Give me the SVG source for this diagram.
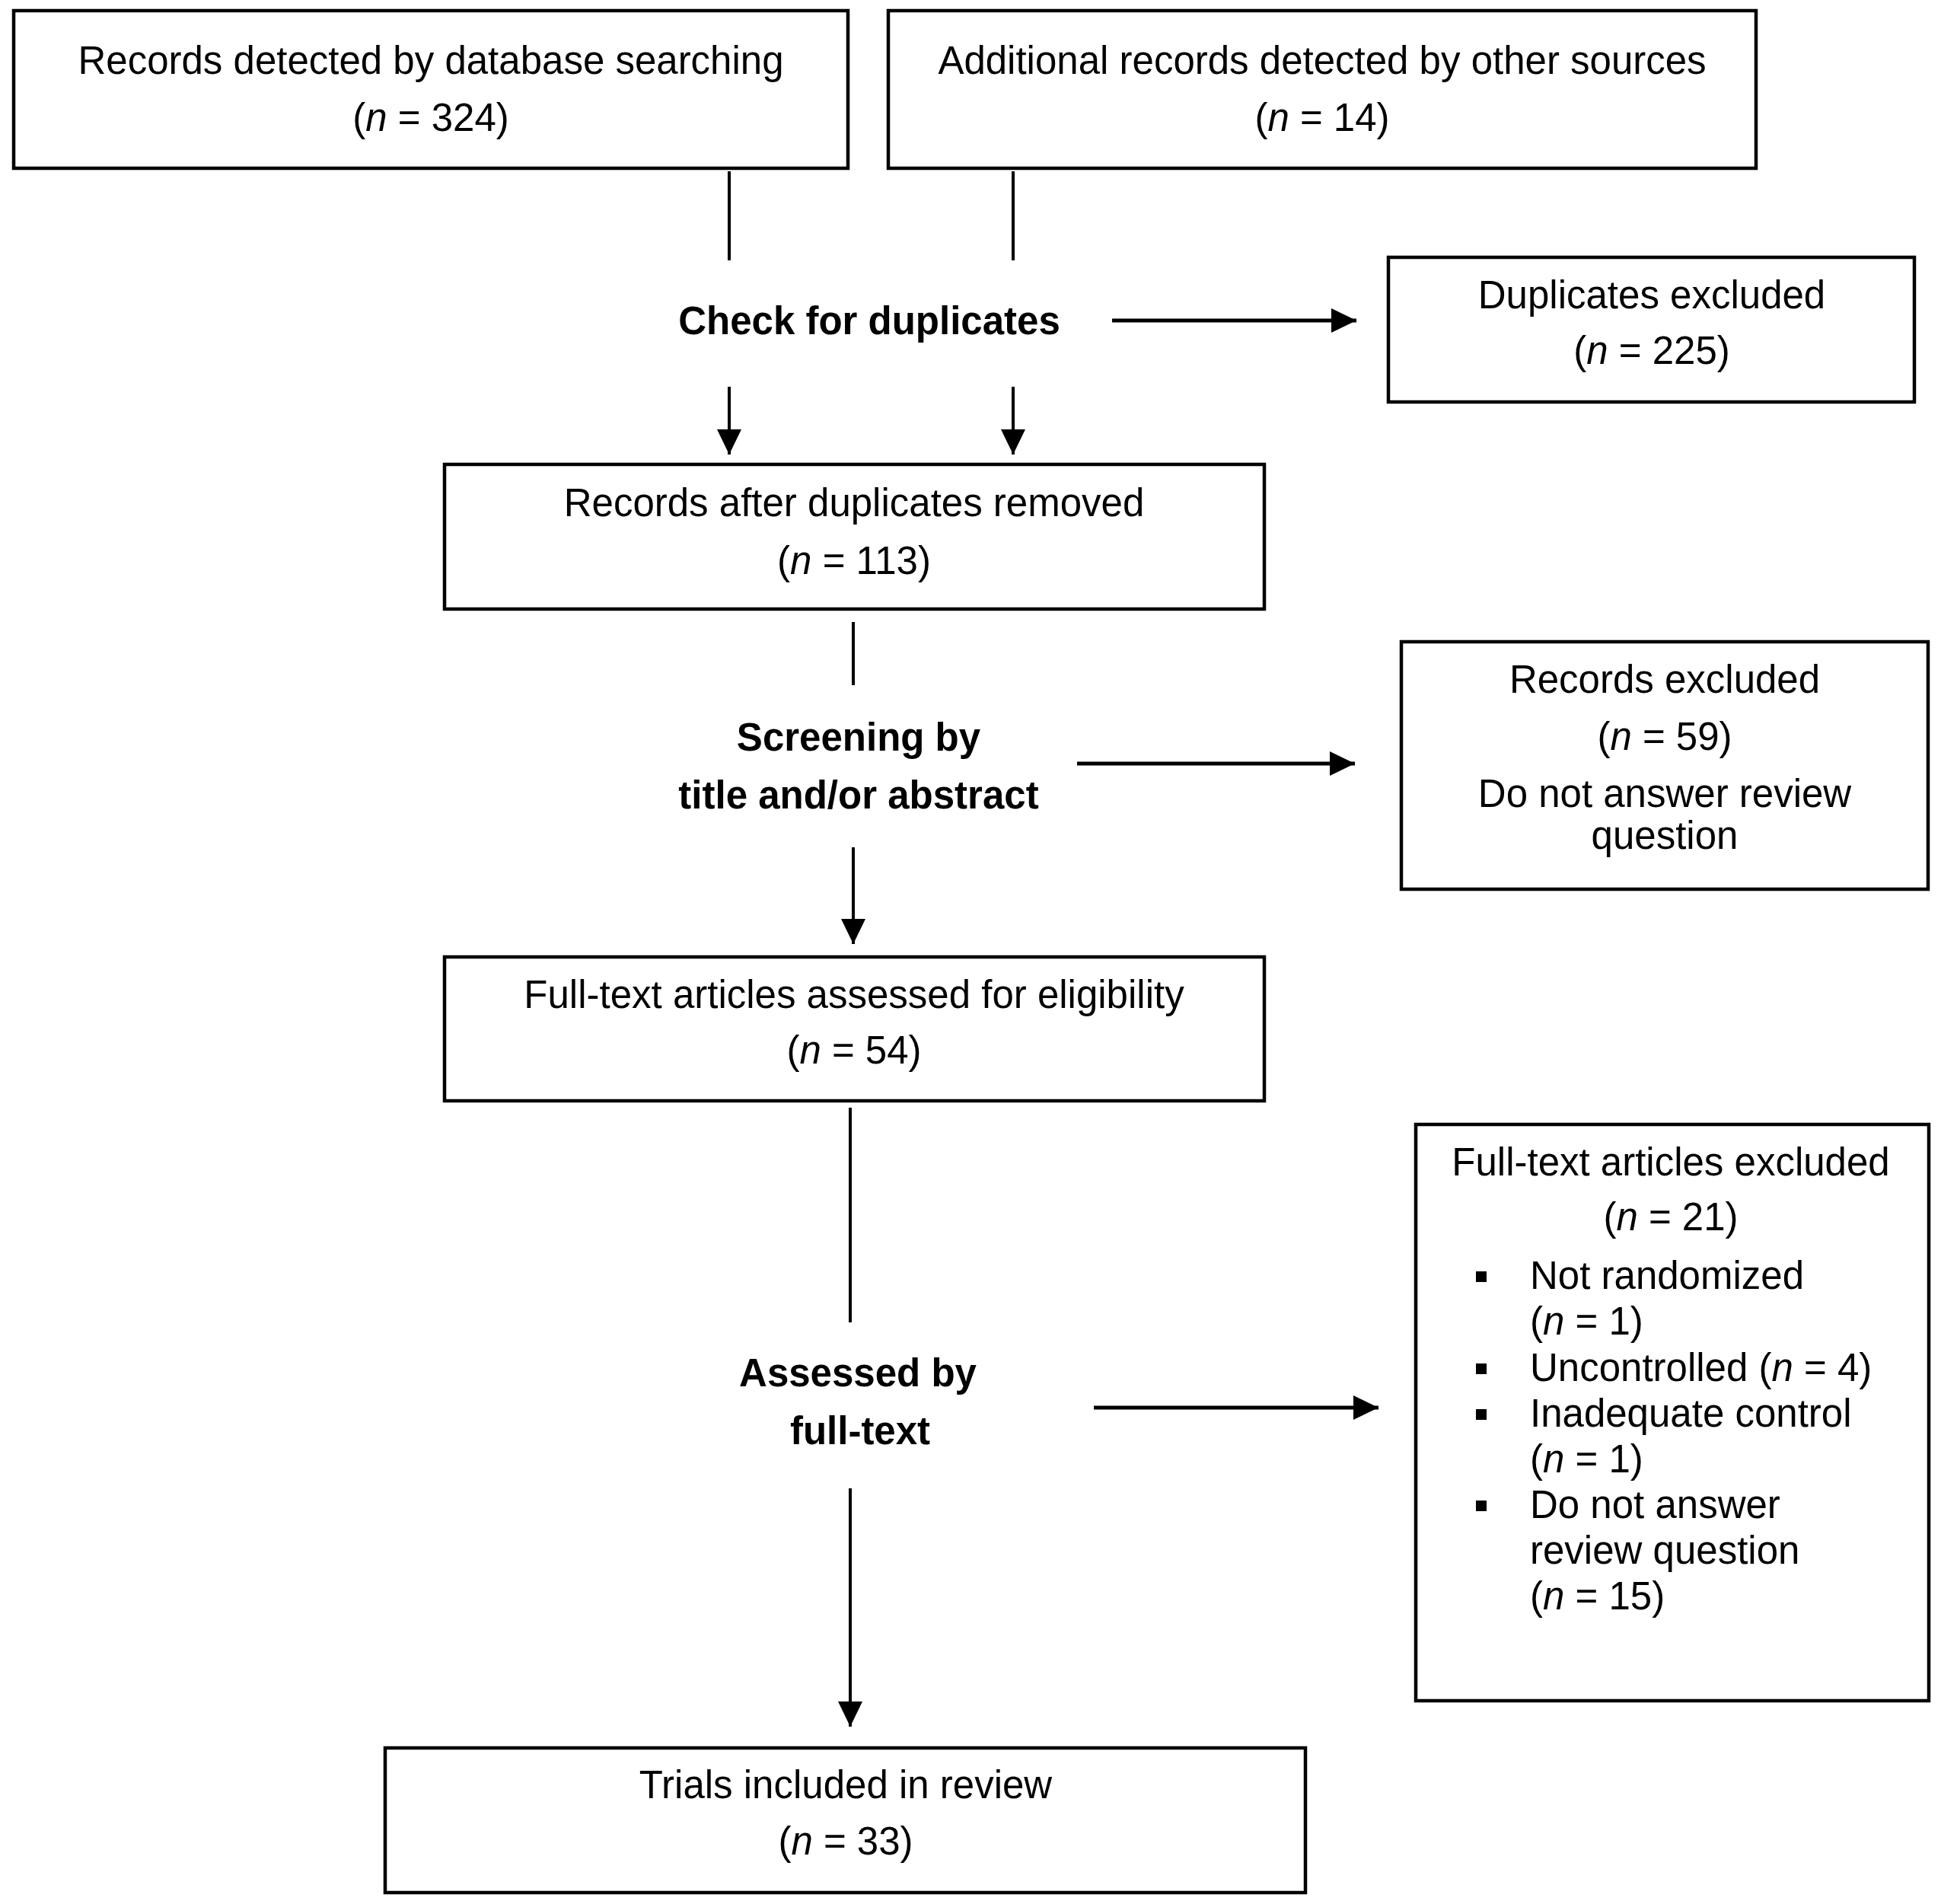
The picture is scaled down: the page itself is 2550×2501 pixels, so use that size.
<svg xmlns="http://www.w3.org/2000/svg" width="2550" height="2501" viewBox="0 0 2550 2501">
<style>
.box{fill:#fff;stroke:#000;stroke-width:4.5}
.t{font-family:"Liberation Sans",Arial,sans-serif;font-size:51px;fill:#000}
.c{text-anchor:middle}
.b{font-weight:bold}
.i{font-style:italic}
.ln{stroke:#000;stroke-width:4;fill:none}
.ar{stroke:#000;stroke-width:5;fill:none}
</style>
<defs>
<marker id="ah" markerUnits="userSpaceOnUse" markerWidth="36" markerHeight="34" refX="33" refY="16" orient="auto">
<path d="M0,0 L33,16 L0,32 z" fill="#000"/>
</marker>
</defs>
<rect width="2550" height="2501" fill="#fff"/>
<g id="connectors">
<line class="ln" x1="958" y1="225" x2="958" y2="342"/>
<line class="ln" x1="1331" y1="225" x2="1331" y2="342"/>
<line class="ar" x1="1461" y1="421" x2="1782" y2="421" marker-end="url(#ah)"/>
<line class="ln" x1="958" y1="508" x2="958" y2="597" marker-end="url(#ah)"/>
<line class="ln" x1="1331" y1="508" x2="1331" y2="597" marker-end="url(#ah)"/>
<line class="ln" x1="1121" y1="817" x2="1121" y2="900"/>
<line class="ar" x1="1415" y1="1003" x2="1780" y2="1003" marker-end="url(#ah)"/>
<line class="ln" x1="1121" y1="1113" x2="1121" y2="1240" marker-end="url(#ah)"/>
<line class="ln" x1="1117" y1="1455" x2="1117" y2="1737"/>
<line class="ar" x1="1437" y1="1849" x2="1811" y2="1849" marker-end="url(#ah)"/>
<line class="ln" x1="1117" y1="1955" x2="1117" y2="2268" marker-end="url(#ah)"/>
</g>
<g id="n1">
<rect class="box" x="18" y="14" width="1096" height="207"/>
<text class="t c" x="566" y="97">Records detected by database searching</text>
<text class="t c" x="566" y="172">(<tspan class="i">n</tspan> = 324)</text>
</g>
<g id="n2">
<rect class="box" x="1167" y="14" width="1140" height="207"/>
<text class="t c" x="1737" y="97">Additional records detected by other sources</text>
<text class="t c" x="1737" y="172">(<tspan class="i">n</tspan> = 14)</text>
</g>
<g id="check">
<text class="t c b" x="1142" y="439">Check for duplicates</text>
</g>
<g id="dup">
<rect class="box" x="1824" y="338" width="691" height="190"/>
<text class="t c" x="2170" y="405">Duplicates excluded</text>
<text class="t c" x="2170" y="478">(<tspan class="i">n</tspan> = 225)</text>
</g>
<g id="n3">
<rect class="box" x="584" y="610" width="1077" height="190"/>
<text class="t c" x="1122" y="678">Records after duplicates removed</text>
<text class="t c" x="1122" y="754">(<tspan class="i">n</tspan> = 113)</text>
</g>
<g id="screen">
<text class="t c b" x="1128" y="986">Screening by</text>
<text class="t c b" x="1128" y="1062">title and/or abstract</text>
</g>
<g id="rexcl">
<rect class="box" x="1841" y="843" width="692" height="325"/>
<text class="t c" x="2187" y="910">Records excluded</text>
<text class="t c" x="2187" y="985">(<tspan class="i">n</tspan> = 59)</text>
<text class="t c" x="2187" y="1060">Do not answer review</text>
<text class="t c" x="2187" y="1115">question</text>
</g>
<g id="n4">
<rect class="box" x="584" y="1257" width="1077" height="189"/>
<text class="t c" x="1122" y="1324">Full-text articles assessed for eligibility</text>
<text class="t c" x="1122" y="1397">(<tspan class="i">n</tspan> = 54)</text>
</g>
<g id="assess">
<text class="t c b" x="1127" y="1821">Assessed by</text>
<text class="t c b" x="1130" y="1897">full-text</text>
</g>
<g id="fexcl">
<rect class="box" x="1860" y="1477" width="674" height="757"/>
<text class="t c" x="2195" y="1544">Full-text articles excluded</text>
<text class="t c" x="2195" y="1616">(<tspan class="i">n</tspan> = 21)</text>
<rect x="1939" y="1670" width="14" height="14" fill="#000"/>
<rect x="1939" y="1791" width="14" height="14" fill="#000"/>
<rect x="1939" y="1851" width="14" height="14" fill="#000"/>
<rect x="1939" y="1971" width="14" height="14" fill="#000"/>
<text class="t" x="2010" y="1693">Not randomized</text>
<text class="t" x="2010" y="1753">(<tspan class="i">n</tspan> = 1)</text>
<text class="t" x="2010" y="1814">Uncontrolled (<tspan class="i">n</tspan> = 4)</text>
<text class="t" x="2010" y="1874">Inadequate control</text>
<text class="t" x="2010" y="1934">(<tspan class="i">n</tspan> = 1)</text>
<text class="t" x="2010" y="1994">Do not answer</text>
<text class="t" x="2010" y="2054">review question</text>
<text class="t" x="2010" y="2114">(<tspan class="i">n</tspan> = 15)</text>
</g>
<g id="n5">
<rect class="box" x="506" y="2296" width="1209" height="190"/>
<text class="t c" x="1111" y="2362">Trials included in review</text>
<text class="t c" x="1111" y="2436">(<tspan class="i">n</tspan> = 33)</text>
</g>
</svg>
